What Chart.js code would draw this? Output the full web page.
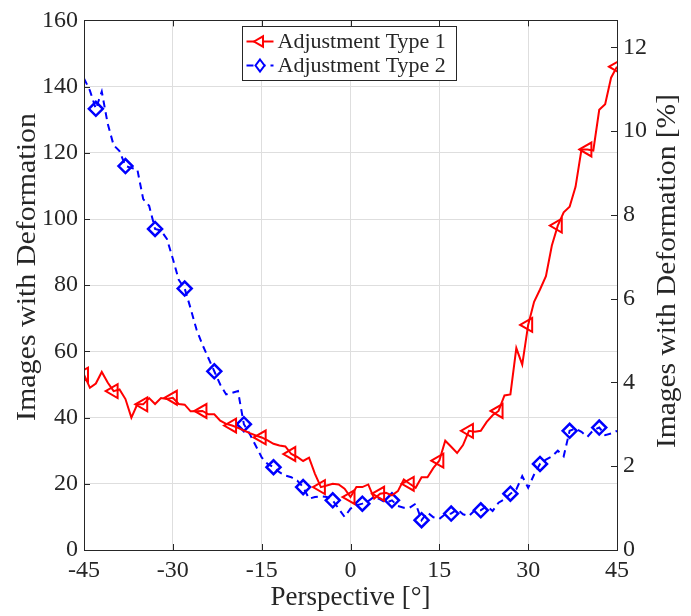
<!DOCTYPE html>
<html>
<head>
<meta charset="utf-8">
<script src="https://cdn.jsdelivr.net/npm/chart.js@4.4.1/dist/chart.umd.min.js"></script>
<style>
  html, body { margin: 0; padding: 0; background: #fff; }
  #wrap { width: 691px; height: 616px; }
</style>
</head>
<body>
<div id="wrap"><canvas id="c" width="691" height="616"></canvas></div>
<script>
// perspective angles in degrees
const angles = [
  -45, -44, -43, -42, -41, -40, -39, -38, -37, -36, -35, -34, -33, -32, -31, -30,
  -29, -28, -27, -26, -25, -24, -23, -22, -21, -20, -19, -18, -17, -16, -15,
  -14, -13, -12, -11, -10, -9, -8, -7, -6, -5, -4, -3, -2, -1, 0,
  1, 2, 3, 4, 5, 6, 7, 8, 9, 10, 11, 12, 13, 14, 15,
  16, 17, 18, 19, 20, 21, 22, 23, 24, 25, 26, 27, 28, 29, 30,
  31, 32, 33, 34, 35, 36, 37, 38, 39, 40, 41, 42, 43, 44, 45
];

const type1 = [
  53, 49, 50.3, 53.8, 50.6, 48, 48.5, 45.6, 40, 44, 44, 45.9, 44.1, 45.9, 45.6, 46,
  44.1, 43.9, 41.9, 41.9, 42, 41, 41, 39.1, 38.1, 37.6, 36.9, 36.1, 35.3, 34.6, 34,
  33.1, 32.1, 31.6, 31.3, 29, 28.1, 26.9, 27.9, 23, 19, 19.5, 20, 19.8, 18.5, 16,
  19, 19, 19.8, 15.5, 17, 17.3, 16.5, 17.8, 21.3, 20, 18.8, 22, 22, 24.8, 27,
  33, 31.2, 29.3, 31.7, 36, 35.7, 36, 38.7, 40.7, 42, 46.7, 47, 61, 56, 68,
  75, 78.7, 82.7, 92, 98, 102, 103.7, 109.7, 121, 121, 120.7, 133, 134.7, 142.7, 146
];

const type2 = [
  142.5, 138.8, 133.3, 138.5, 128.8, 122.3, 120.5, 116, 115.4, 115, 106, 104, 97, 96.5, 94, 88,
  81.6, 79, 73, 66.6, 62, 58, 54, 50, 47, 47.5, 48, 38, 35, 31.5, 28,
  26, 25, 23.5, 22.5, 22, 21, 19, 15.5, 16, 16.2, 16, 15, 12.5, 10, 12.5,
  13.5, 14, 14.8, 16.1, 15.3, 14.3, 15, 13.3, 12.8, 12.8, 14, 9, 11.3, 9.9, 9.4,
  10.8, 11, 12.3, 10.8, 10.3, 12, 12, 13.3, 11.8, 14.3, 15.3, 17, 18.3, 22.3, 18.8,
  22.8, 26, 27.3, 28.3, 30, 28.3, 36, 36.7, 35.7, 34.2, 36.2, 37, 34.7, 35.2, 36
];

const seriesLabels = ['Adjustment Type 1', 'Adjustment Type 2'];
const xTicks = [-45, -30, -15, 0, 15, 30, 45];
const leftMax = 160;
const rightMax = 12.64; // same range as the left axis, in percent

const axisColor = '#262626';
const gridColor = '#dedede';
const serif = '"Liberation Serif", "DejaVu Serif", serif';

function toPoints(ys) {
  return angles.map((a, i) => ({ x: a, y: ys[i] }));
}

// MATLAB-style box, inward ticks, rotated y titles and legend
const matlabAxes = {
  id: 'matlabAxes',
  afterDraw(chart) {
    const { ctx, chartArea: a, scales } = chart;
    const len = 6;
    ctx.save();
    ctx.strokeStyle = axisColor;
    ctx.lineWidth = 1;
    ctx.beginPath();
    for (const t of scales.x.ticks) {
      const px = Math.round(scales.x.getPixelForValue(t.value)) + 0.5;
      ctx.moveTo(px, a.bottom); ctx.lineTo(px, a.bottom - len);
      ctx.moveTo(px, a.top); ctx.lineTo(px, a.top + len);
    }
    for (const t of scales.y.ticks) {
      const py = Math.round(scales.y.getPixelForValue(t.value)) + 0.5;
      ctx.moveTo(a.left, py); ctx.lineTo(a.left + len, py);
    }
    for (const t of scales.y2.ticks) {
      const py = Math.round(scales.y2.getPixelForValue(t.value)) + 0.5;
      ctx.moveTo(a.right, py); ctx.lineTo(a.right - len, py);
    }
    ctx.stroke();
    ctx.strokeRect(Math.round(a.left) + 0.5, Math.round(a.top) + 0.5,
      Math.round(a.right - a.left), Math.round(a.bottom - a.top));

    // y titles, both read bottom to top (slightly widened, the original font runs wider)
    ctx.fillStyle = axisColor;
    ctx.font = '27px ' + serif;
    ctx.textAlign = 'center';
    ctx.textBaseline = 'middle';
    ctx.save();
    ctx.translate(28, 267);
    ctx.rotate(-Math.PI / 2);
    ctx.scale(1.11, 1);
    ctx.fillText('Images with Deformation', 0, 0);
    ctx.restore();
    ctx.save();
    ctx.translate(668, 271);
    ctx.rotate(-Math.PI / 2);
    ctx.scale(1.09, 1);
    ctx.fillText('Images with Deformation [%]', 0, 0);
    ctx.restore();

    // legend
    const bx = 242.5, by = 26.5, bw = 214, bh = 54;
    ctx.fillStyle = '#fff';
    ctx.fillRect(bx, by, bw, bh);
    ctx.strokeStyle = axisColor;
    ctx.strokeRect(bx, by, bw, bh);
    chart.data.datasets.forEach((ds, i) => {
      const cy = by + 15 + i * 24;
      ctx.save();
      ctx.strokeStyle = ds.borderColor;
      ctx.lineWidth = 2;
      ctx.setLineDash(ds.borderDash || []);
      ctx.beginPath();
      ctx.moveTo(bx + 4, cy); ctx.lineTo(bx + 31, cy);
      ctx.stroke();
      ctx.setLineDash([]);
      ctx.beginPath();
      const mx = bx + 17.5, r = 6;
      if (i === 0) {
        ctx.moveTo(mx - r, cy);
        ctx.lineTo(mx + r * 0.5, cy - r * 0.87);
        ctx.lineTo(mx + r * 0.5, cy + r * 0.87);
      } else {
        ctx.moveTo(mx, cy - r); ctx.lineTo(mx + r * 0.75, cy);
        ctx.lineTo(mx, cy + r); ctx.lineTo(mx - r * 0.75, cy);
      }
      ctx.closePath();
      ctx.fillStyle = '#fff';
      ctx.fill();
      ctx.stroke();
      ctx.restore();
      ctx.fillStyle = axisColor;
      ctx.font = '22px ' + serif;
      ctx.textAlign = 'left';
      ctx.textBaseline = 'middle';
      ctx.fillText(ds.label, bx + 35, cy + 1);
    });
    ctx.restore();
  }
};

const tickFont = { family: serif, size: 24 };

new Chart(document.getElementById('c'), {
  type: 'line',
  data: {
    datasets: [
      {
        label: seriesLabels[0],
        data: toPoints(type1),
        yAxisID: 'y',
        borderColor: '#ff0000',
        borderWidth: 2,
        pointStyle: 'triangle',
        rotation: -90,
        pointRadius: ctx => (ctx.dataIndex % 5 === 0 ? 8 : 0),
        pointBorderWidth: 2,
        pointBorderColor: '#ff0000',
        pointBackgroundColor: 'rgba(0,0,0,0)',
        tension: 0
      },
      {
        label: seriesLabels[1],
        data: toPoints(type2),
        yAxisID: 'y',
        borderColor: '#0000ff',
        borderWidth: 2,
        borderDash: [7, 5],
        pointStyle: 'rectRot',
        pointRadius: ctx => ((ctx.dataIndex - 2) % 5 === 0 ? 7 : 0),
        pointBorderWidth: 2.5,
        pointBorderColor: '#0000ff',
        pointBackgroundColor: 'rgba(0,0,0,0)',
        tension: 0
      }
    ]
  },
  options: {
    responsive: false,
    animation: false,
    events: [],
    layout: { padding: { top: 18, left: 0, right: 0, bottom: 0 } },
    plugins: { legend: { display: false }, tooltip: { enabled: false } },
    scales: {
      x: {
        type: 'linear',
        min: -45,
        max: 45,
        afterBuildTicks: s => { s.ticks = xTicks.map(v => ({ value: v })); },
        ticks: { font: tickFont, color: axisColor, padding: 6, maxRotation: 0, callback: v => String(v) },
        grid: { color: gridColor, drawTicks: false },
        border: { display: false },
        title: { display: true, text: 'Perspective [°]', color: axisColor, font: { family: serif, size: 27 }, padding: { top: 0, bottom: 2 } },
        afterFit: s => { s.height = 66; }
      },
      y: {
        position: 'left',
        min: 0,
        max: leftMax,
        ticks: { stepSize: 20, font: tickFont, color: axisColor, padding: 6 },
        grid: { color: gridColor, drawTicks: false },
        border: { display: false },
        afterFit: s => { s.width = 84; }
      },
      y2: {
        position: 'right',
        min: 0,
        max: rightMax,
        ticks: { stepSize: 2, includeBounds: false, font: tickFont, color: axisColor, padding: 6 },
        grid: { display: false, drawTicks: false },
        border: { display: false },
        afterFit: s => { s.width = 74; }
      }
    }
  },
  plugins: [matlabAxes]
});
</script>
</body>
</html>
